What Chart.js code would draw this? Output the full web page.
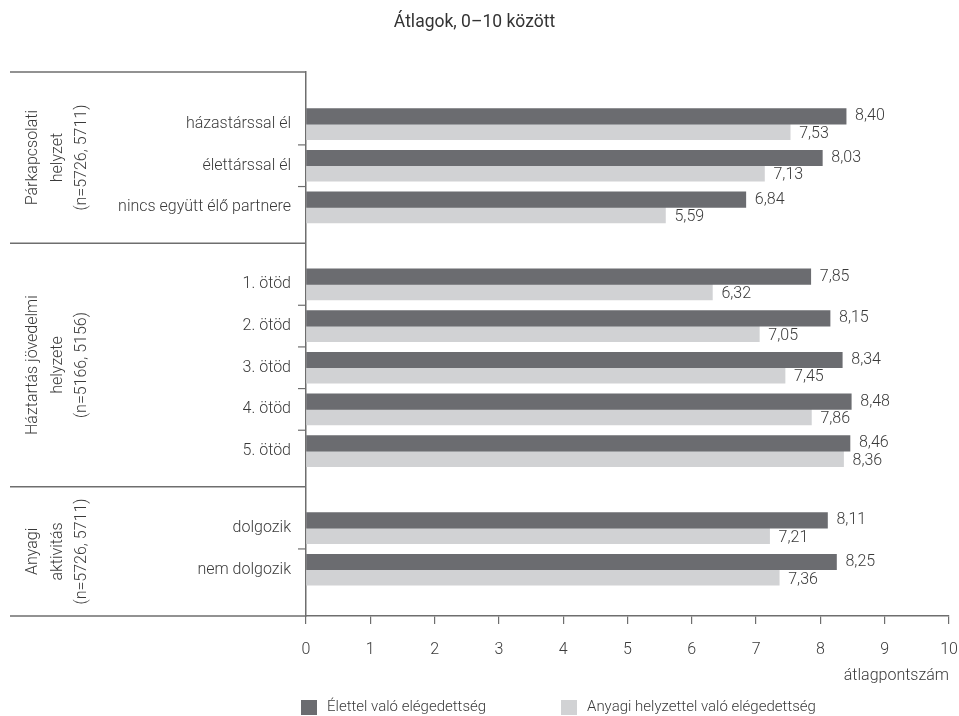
<!DOCTYPE html>
<html lang="hu">
<head>
<meta charset="UTF-8">
<title>Átlagok, 0–10 között</title>
<script src="https://cdn.jsdelivr.net/npm/chart.js"></script>
<style>
  html, body { margin: 0; padding: 0; background: #fff; }
  #wrap { width: 959px; height: 716px; }
</style>
</head>
<body>
<div id="wrap"><canvas id="chart" width="959" height="716"></canvas></div>
<script>
// adatok
const csoportok = [
  ['Párkapcsolati', 'helyzet', '(n=5726, 5711)'],
  ['Háztartás jövedelmi', 'helyzete', '(n=5166, 5156)'],
  ['Anyagi', 'aktivitás', '(n=5726, 5711)']
];
const kategoriak = [
  'házastárssal él', 'élettárssal él', 'nincs együtt élő partnere',
  '1. ötöd', '2. ötöd', '3. ötöd', '4. ötöd', '5. ötöd',
  'dolgozik', 'nem dolgozik'
];
const kategoriaCsoport = [0, 0, 0, 1, 1, 1, 1, 1, 2, 2];
const eletElegedettseg = [8.40, 8.03, 6.84, 7.85, 8.15, 8.34, 8.48, 8.46, 8.11, 8.25];
const anyagiElegedettseg = [7.53, 7.13, 5.59, 6.32, 7.05, 7.45, 7.86, 8.36, 7.21, 7.36];
const sorozatNevek = ['Élettel való elégedettség', 'Anyagi helyzettel való elégedettség'];

const SZIN_SOTET = '#6b6c70';
const SZIN_VILAGOS = '#d1d2d4';
const SZIN_SZOVEG = '#3a3a3a';
const SZIN_VONAL = '#6e6e6e';
const CSOPORT_RES = 0.85;

// sorok helye a függőleges tengelyen (csoportok közt hézag)
const pozicio = kategoriak.map((k, i) => i + kategoriaCsoport[i] * CSOPORT_RES);

Chart.defaults.font.family = 'Roboto';
Chart.defaults.font.weight = '300';
Chart.defaults.color = SZIN_SZOVEG;

const fmt = v => v.toFixed(2).replace('.', ',');

const rajzolo = {
  id: 'rajzolo',
  afterDatasetsDraw(chart) {
    const ctx = chart.ctx;
    ctx.save();
    ctx.font = '300 16px Roboto';
    ctx.fillStyle = SZIN_SZOVEG;
    ctx.textAlign = 'left';
    ctx.textBaseline = 'middle';
    chart.data.datasets.forEach((ds, i) => {
      chart.getDatasetMeta(i).data.forEach((bar, j) => {
        ctx.fillText(fmt(ds.data[j].x), bar.x + 9, bar.y + (i === 1 ? 2 : 0));
      });
    });
    ctx.restore();
  },
  afterDraw(chart) {
    const ctx = chart.ctx;
    const y = chart.scales.y;
    const area = chart.chartArea;
    ctx.save();
    ctx.strokeStyle = SZIN_VONAL;
    ctx.lineWidth = 1.5;

    // csoporthatárok
    const hatarok = [area.top];
    for (let g = 0; g < csoportok.length - 1; g++) {
      const utolso = pozicio[kategoriaCsoport.lastIndexOf(g)];
      hatarok.push(y.getPixelForValue(utolso + 0.86));
    }
    hatarok.push(area.bottom);
    hatarok.forEach(h => {
      ctx.beginPath();
      ctx.moveTo(10, h);
      ctx.lineTo(area.left, h);
      ctx.stroke();
    });

    // rövid jelek a sorok között
    ctx.lineWidth = 1.2;
    for (let i = 0; i < kategoriak.length - 1; i++) {
      if (kategoriaCsoport[i] !== kategoriaCsoport[i + 1]) continue;
      const py = y.getPixelForValue(pozicio[i] + 0.5);
      ctx.beginPath();
      ctx.moveTo(area.left - 8, py);
      ctx.lineTo(area.left, py);
      ctx.stroke();
    }

    // csoportfeliratok
    ctx.font = '300 16px Roboto';
    ctx.fillStyle = SZIN_SZOVEG;
    ctx.textAlign = 'center';
    ctx.textBaseline = 'middle';
    csoportok.forEach((sorok, g) => {
      const cy = (hatarok[g] + hatarok[g + 1]) / 2;
      ctx.save();
      ctx.translate(57.5, cy);
      ctx.rotate(-Math.PI / 2);
      sorok.forEach((s, k) => ctx.fillText(s, 0, (k - 1) * 24.5));
      ctx.restore();
    });

    // jelmagyarázat
    const tetelek = [
      { x: 301, szin: SZIN_SOTET },
      { x: 561, szin: SZIN_VILAGOS }
    ];
    ctx.font = '300 15px Roboto';
    ctx.textAlign = 'left';
    tetelek.forEach((t, i) => {
      ctx.fillStyle = t.szin;
      ctx.fillRect(t.x, 700, 16, 15);
      ctx.fillStyle = SZIN_SZOVEG;
      ctx.fillText(sorozatNevek[i], t.x + 26, 707.5);
    });
    ctx.restore();
  }
};

new Chart(document.getElementById('chart'), {
  type: 'bar',
  data: {
    datasets: [
      {
        label: sorozatNevek[0],
        data: eletElegedettseg.map((v, i) => ({ x: v, y: pozicio[i] })),
        backgroundColor: SZIN_SOTET,
        barThickness: 15.5
      },
      {
        label: sorozatNevek[1],
        data: anyagiElegedettseg.map((v, i) => ({ x: v, y: pozicio[i] })),
        backgroundColor: SZIN_VILAGOS,
        barThickness: 15.5
      }
    ]
  },
  options: {
    indexAxis: 'y',
    responsive: false,
    animation: false,
    devicePixelRatio: 1,
    layout: { padding: { left: 0, right: 10, top: 0, bottom: 0 } },
    plugins: {
      legend: { display: false },
      tooltip: { enabled: false },
      title: {
        display: true,
        text: 'Átlagok, 0–10 között',
        font: { size: 17.5, weight: '400' },
        color: '#333',
        padding: { top: 12, bottom: 39 }
      }
    },
    scales: {
      x: {
        type: 'linear',
        min: 0,
        max: 10,
        ticks: { stepSize: 1, font: { size: 16 }, padding: 16, color: SZIN_SZOVEG },
        grid: { drawOnChartArea: false, tickLength: 8, color: SZIN_VONAL, lineWidth: 1.2 },
        border: { color: SZIN_VONAL, width: 1.5 },
        title: {
          display: true,
          text: 'átlagpontszám',
          align: 'end',
          font: { size: 16 },
          color: SZIN_SZOVEG,
          padding: { top: 0, bottom: 30 }
        },
        afterFit(s) {
          s.height = 100;
          s.paddingLeft = 0;
          s.paddingRight = 0;
        }
      },
      y: {
        type: 'linear',
        reverse: true,
        offset: false,
        min: -1.25,
        max: 11.81,
        afterBuildTicks(s) {
          s.ticks = pozicio.map(v => ({ value: v }));
        },
        ticks: {
          autoSkip: false,
          font: { size: 16 },
          padding: 15,
          color: SZIN_SZOVEG,
          callback: v => kategoriak[pozicio.indexOf(v)]
        },
        grid: { display: false, drawTicks: false },
        border: { display: true, color: SZIN_VONAL, width: 1.5 },
        afterFit(s) {
          s.width = 306;
          s.paddingTop = 0;
          s.paddingBottom = 0;
        }
      }
    }
  },
  plugins: [rajzolo]
});
</script>
</body>
</html>
